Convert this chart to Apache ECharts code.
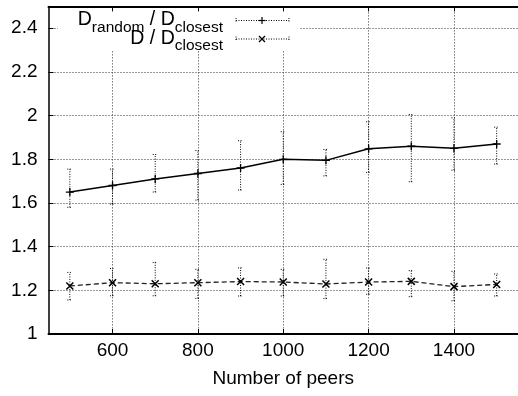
<!DOCTYPE html>
<html><head><meta charset="utf-8">
<script src="https://cdn.jsdelivr.net/npm/echarts@6/dist/echarts.min.js"></script>
<style>html,body{margin:0;padding:0;background:#fff}#c{width:518px;height:396px}</style>
</head><body><div id="c"></div>
<script>
// ---- data ----
const peers = [500, 600, 700, 800, 900, 1000, 1100, 1200, 1300, 1400, 1500];
const randomRatio = [1.65, 1.68, 1.71, 1.735, 1.76, 1.80, 1.795, 1.848, 1.86, 1.85, 1.87];
const randomLow = [1.58, 1.595, 1.65, 1.613, 1.659, 1.685, 1.724, 1.74, 1.697, 1.75, 1.778];
const randomHigh = [1.755, 1.755, 1.822, 1.84, 1.885, 1.926, 1.845, 1.972, 2.005, 1.99, 1.947];
const dRatio = [1.22, 1.235, 1.23, 1.235, 1.24, 1.238, 1.229, 1.238, 1.241, 1.217, 1.227];
const dLow = [1.156, 1.175, 1.175, 1.163, 1.174, 1.174, 1.162, 1.182, 1.171, 1.152, 1.174];
const dHigh = [1.282, 1.30, 1.328, 1.296, 1.303, 1.296, 1.342, 1.302, 1.29, 1.287, 1.275];
const xTicks = [600, 800, 1000, 1200, 1400];
const yTicks = [1, 1.2, 1.4, 1.6, 1.8, 2, 2.2, 2.4];
const xName = 'Number of peers';
const legendParts = [
  [['D', 0], ['random', 1], [' / D', 0], ['closest', 1]],
  [['D / D', 0], ['closest', 1]]
];

const FONT = '"Liberation Sans", Arial, Helvetica, sans-serif';
const plusPath = 'path://M0,5L10,5M5,0L5,10';
const crossPath = 'path://M0,0L10,10M10,0L0,10';

const chart = echarts.init(document.getElementById('c'), null, {renderer: 'canvas'});

function errorRender(params, api) {
  const x = api.value(0), lo = api.value(1), hi = api.value(2);
  const a = api.coord([x, lo]), b = api.coord([x, hi]);
  const w = 2.5;
  const style = {stroke: '#000', lineWidth: 1, lineDash: [1, 1.5]};
  return {type: 'group', children: [
    {type: 'line', shape: {x1: a[0], y1: a[1], x2: b[0], y2: b[1]}, style: style},
    {type: 'line', shape: {x1: a[0] - w, y1: a[1], x2: a[0] + w, y2: a[1]}, style: style},
    {type: 'line', shape: {x1: b[0] - w, y1: b[1], x2: b[0] + w, y2: b[1]}, style: style}
  ]};
}

// legend (gnuplot style key)
const ctx = document.createElement('canvas').getContext('2d');
function tw(t, s) { ctx.font = s + 'px ' + FONT; return ctx.measureText(t).width; }
const MAIN = 19.5, SUB = 15.5;
const keyRight = 223;
const lineMid = [20, 38.5];
const legendEls = [];
legendEls.push({type: 'rect', shape: {x: 58, y: 8, width: 242, height: 42}, style: {fill: '#fff'}, z: 1, silent: true});
legendParts.forEach(function (parts, li) {
  let x = keyRight;
  for (let i = parts.length - 1; i >= 0; i--) {
    const t = parts[i][0], sub = parts[i][1];
    const s = sub ? SUB : MAIN;
    legendEls.push({type: 'text', x: x, y: lineMid[li] + (sub ? 7.5 : 0), z: 6,
      style: {text: t, fontSize: s, fontFamily: FONT, fill: '#000', align: 'right', verticalAlign: 'middle'}});
    x -= tw(t, s);
  }
  const y = lineMid[li] + 0.5;
  const ls = {stroke: '#000', lineWidth: 1, lineDash: [1, 1.5]};
  legendEls.push({type: 'line', z: 6, shape: {x1: 236, y1: y, x2: 289, y2: y}, style: ls});
  legendEls.push({type: 'line', z: 6, shape: {x1: 236, y1: y - 2.5, x2: 236, y2: y + 2.5}, style: ls});
  legendEls.push({type: 'line', z: 6, shape: {x1: 289, y1: y - 2.5, x2: 289, y2: y + 2.5}, style: ls});
  const cx = 262, h = 3.5;
  if (li === 0) {
    legendEls.push({type: 'polyline', z: 6, shape: {points: [[cx - h, y], [cx + h, y]]}, style: {stroke: '#000', lineWidth: 1.2}});
    legendEls.push({type: 'polyline', z: 6, shape: {points: [[cx, y - h], [cx, y + h]]}, style: {stroke: '#000', lineWidth: 1.2}});
  } else {
    legendEls.push({type: 'polyline', z: 6, shape: {points: [[cx - 3, y - 3], [cx + 3, y + 3]]}, style: {stroke: '#000', lineWidth: 1.2}});
    legendEls.push({type: 'polyline', z: 6, shape: {points: [[cx + 3, y - 3], [cx - 3, y + 3]]}, style: {stroke: '#000', lineWidth: 1.2}});
  }
});

const gridLine = {show: true, lineStyle: {color: '#333', width: 1, type: [1, 2]}};
const xBase = {type: 'value', min: 450, max: 1550};
const yBase = {type: 'value', min: 1, max: 2.5};
const plain = function (v) { return String(v); };

const option = {
  animation: false,
  backgroundColor: '#fff',
  grid: {left: 48.5, right: -3.5, top: 6.4, bottom: 62, containLabel: false},
  xAxis: [
    Object.assign({}, xBase, {position: 'bottom', z: 5,
      name: xName, nameLocation: 'middle', nameGap: 35,
      nameTextStyle: {fontSize: 19, fontFamily: FONT, color: '#000'},
      axisLine: {show: true, onZero: false, lineStyle: {color: '#000', width: 2}},
      axisTick: {show: true, inside: true, length: 5, customValues: xTicks, lineStyle: {color: '#000', width: 1}},
      axisLabel: {show: true, customValues: xTicks, formatter: plain, fontSize: 19, fontFamily: FONT, color: '#000', margin: 7},
      splitLine: {show: false}}),
    Object.assign({}, xBase, {position: 'top', z: 5,
      axisLine: {show: true, onZero: false, lineStyle: {color: '#000', width: 2}},
      axisTick: {show: true, inside: true, length: 5, customValues: xTicks, lineStyle: {color: '#000', width: 1}},
      axisLabel: {show: false}, splitLine: {show: false}}),
    Object.assign({}, xBase, {position: 'bottom', z: 0,
      axisLine: {show: false}, axisTick: {show: false, customValues: xTicks},
      axisLabel: {show: false, customValues: xTicks}, splitLine: gridLine})
  ],
  yAxis: [
    Object.assign({}, yBase, {position: 'left', z: 5,
      axisLine: {show: true, onZero: false, lineStyle: {color: '#000', width: 1.5}},
      axisTick: {show: true, inside: true, length: 5, customValues: yTicks, lineStyle: {color: '#000', width: 1}},
      axisLabel: {show: true, customValues: yTicks, formatter: plain, fontSize: 19, fontFamily: FONT, color: '#000', margin: 11},
      splitLine: {show: false}}),
    Object.assign({}, yBase, {position: 'left', z: 0,
      axisLine: {show: false}, axisTick: {show: false, customValues: yTicks},
      axisLabel: {show: false, customValues: yTicks}, splitLine: gridLine})
  ],
  graphic: {elements: legendEls},
  series: [
    {type: 'custom', name: 'err1', z: 2, xAxisIndex: 0, yAxisIndex: 0, silent: true,
      renderItem: errorRender, encode: {x: 0, y: [1, 2]},
      data: peers.map(function (p, i) { return [p, randomLow[i], randomHigh[i]]; })},
    {type: 'custom', name: 'err2', z: 2, xAxisIndex: 0, yAxisIndex: 0, silent: true,
      renderItem: errorRender, encode: {x: 0, y: [1, 2]},
      data: peers.map(function (p, i) { return [p, dLow[i], dHigh[i]]; })},
    {type: 'line', name: 'D_random / D_closest', z: 3, xAxisIndex: 0, yAxisIndex: 0,
      data: peers.map(function (p, i) { return [p, randomRatio[i]]; }),
      symbol: plusPath, symbolSize: 8, showSymbol: true, silent: true,
      lineStyle: {color: '#000', width: 1.5},
      itemStyle: {color: 'rgba(0,0,0,0)', borderColor: '#000', borderWidth: 1.3}},
    {type: 'line', name: 'D / D_closest', z: 3, xAxisIndex: 0, yAxisIndex: 0,
      data: peers.map(function (p, i) { return [p, dRatio[i]]; }),
      symbol: crossPath, symbolSize: 7, showSymbol: true, silent: true,
      lineStyle: {color: '#222', width: 1.3, type: [5, 3]},
      itemStyle: {color: 'rgba(0,0,0,0)', borderColor: '#000', borderWidth: 1.5}}
  ]
};
chart.setOption(option);
</script>
</body></html>
